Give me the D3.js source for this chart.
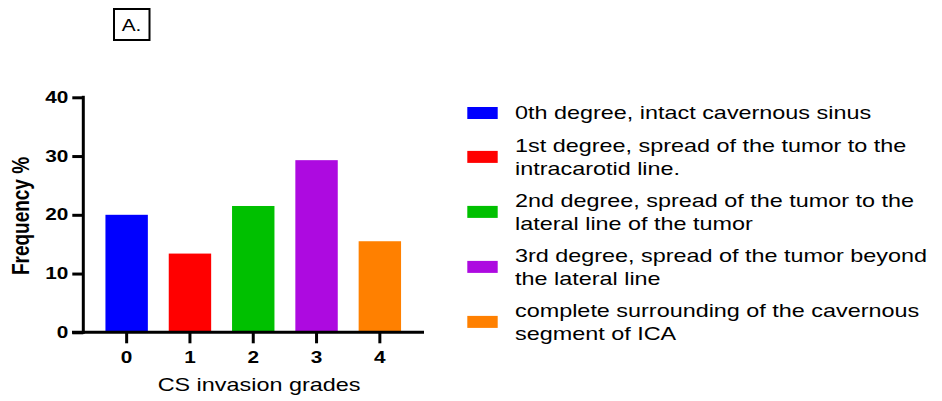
<!DOCTYPE html>
<html><head><meta charset="utf-8">
<script src="https://cdn.jsdelivr.net/npm/d3@7"></script>
<style>body{margin:0;background:#fff}svg{display:block}text{font-family:"Liberation Sans",Arial,sans-serif;fill:#000}</style>
</head><body>
<svg id="c" width="942" height="401"></svg>
<script>
const categories = ["0","1","2","3","4"];
const values = [20, 13.4, 21.5, 29.3, 15.5];
const colors = ["#0000ff","#ff0000","#00c000","#ad0ae0","#ff8000"];
const yTicks = [0,10,20,30,40];
const legendLabels = [
  ["0th degree, intact cavernous sinus"],
  ["1st degree, spread of the tumor to the","intracarotid line."],
  ["2nd degree, spread of the tumor to the","lateral line of the tumor"],
  ["3rd degree, spread of the tumor beyond","the lateral line"],
  ["complete surrounding of the cavernous","segment of ICA"]
];
const panelLabel = "A.";
const xTitle = "CS invasion grades";
const yTitle = "Frequency %";

const SX = 1.3; // horizontal stretch of the source image
const svg = d3.select("#c");
const x0 = 83.3, y0 = 332.3, yTop = 97.3;
const x = d3.scaleBand().domain(categories).range([95, 411.5]).paddingInner(0.33).paddingOuter(0.165);
const y = d3.scaleLinear().domain([0, 40]).range([y0, yTop]);

// bars
svg.append("g").selectAll("rect").data(values).join("rect")
  .attr("x", (d,i) => x(categories[i])).attr("width", x.bandwidth())
  .attr("y", d => y(d)).attr("height", d => y0 - y(d))
  .attr("fill", (d,i) => colors[i]);

function stretch(sel){
  sel.each(function(){
    const t = d3.select(this);
    const xv = +t.attr("x") || 0;
    t.attr("x", xv / SX).attr("transform", `scale(${SX},1)`);
  });
}

// y axis
const ya = svg.append("g").attr("transform", `translate(${x0},0)`)
  .call(d3.axisLeft(y).tickValues(yTicks).tickSize(11).tickPadding(4).tickSizeOuter(0));
ya.select(".domain").remove();
ya.selectAll("line").attr("stroke", "#000").attr("stroke-width", 3);
ya.selectAll("text").attr("font-size", 16).attr("font-weight", "bold").attr("fill","#000").call(stretch);

// x axis
const xa = svg.append("g").attr("transform", `translate(0,${y0})`)
  .call(d3.axisBottom(x).tickSize(11).tickPadding(8).tickSizeOuter(0));
xa.select(".domain").remove();
xa.selectAll("line").attr("stroke", "#000").attr("stroke-width", 3);
xa.selectAll("text").attr("font-size", 16).attr("font-weight", "bold").attr("fill","#000").call(stretch);

// axis lines
svg.append("line").attr("x1", x0).attr("x2", x0).attr("y1", yTop - 1.5).attr("y2", y0 + 1.5)
  .attr("stroke", "#000").attr("stroke-width", 3);
svg.append("line").attr("x1", 72).attr("x2", 424).attr("y1", y0).attr("y2", y0)
  .attr("stroke", "#000").attr("stroke-width", 3);

// titles
svg.append("text").attr("transform", `translate(259,391) scale(${SX},1)`)
  .attr("text-anchor", "middle").attr("font-size", 18).text(xTitle);
svg.append("text").attr("transform", `translate(29,216) scale(${SX},1) rotate(-90)`)
  .attr("text-anchor", "middle").attr("font-size", 19).attr("font-weight", "bold").text(yTitle);

// panel label
svg.append("rect").attr("x", 114).attr("y", 9).attr("width", 35.5).attr("height", 31)
  .attr("fill", "none").attr("stroke", "#000").attr("stroke-width", 2);
svg.append("text").attr("transform", `translate(131.5,31) scale(${SX},1)`)
  .attr("text-anchor", "middle").attr("font-size", 16).text(panelLabel);

// legend
const firstBaselines = [119.3, 151.7, 206.7, 261.7, 316.7];
const lineH = 23;
const lg = svg.append("g");
legendLabels.forEach((lines, i) => {
  const b = firstBaselines[i];
  const mid = b - 6.3 + (lines.length - 1) * lineH / 2;
  lg.append("rect").attr("x", 467.3).attr("y", mid - 6).attr("width", 30.4).attr("height", 12).attr("fill", colors[i]);
  const t = lg.append("text").attr("transform", `translate(515,${b}) scale(${SX},1)`).attr("font-size", 18);
  lines.forEach((ln, j) => t.append("tspan").attr("x", 0).attr("y", j * lineH).text(ln));
});
</script>
</body></html>
